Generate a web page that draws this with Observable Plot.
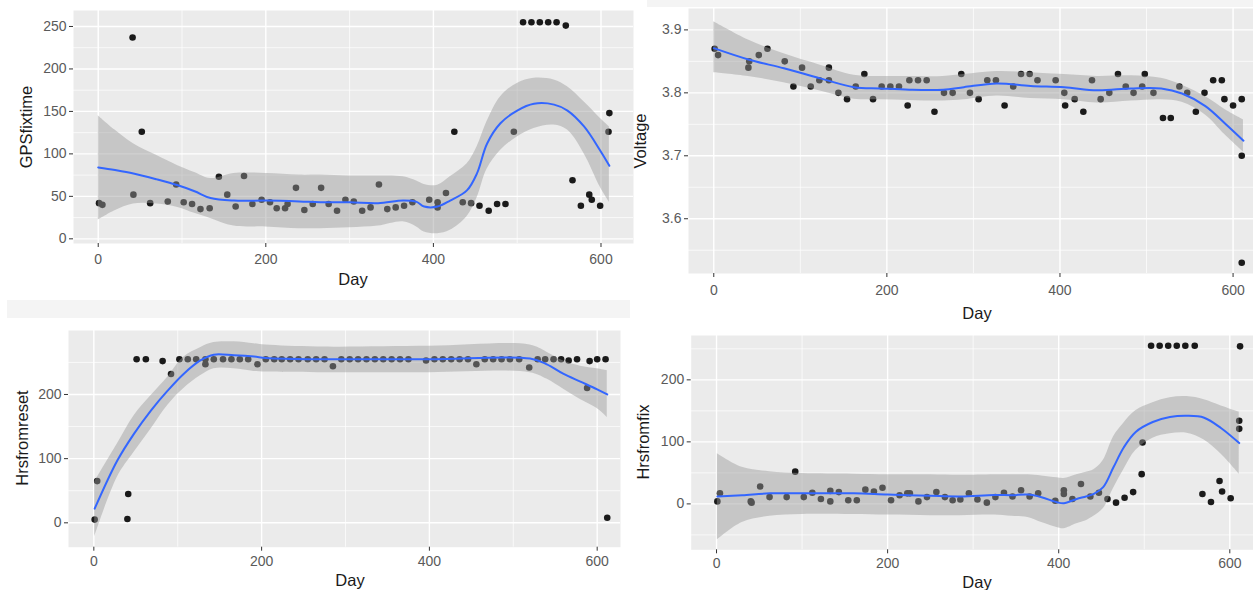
<!DOCTYPE html>
<html><head><meta charset="utf-8">
<script src="https://cdn.jsdelivr.net/npm/d3@7"></script>
<script src="https://cdn.jsdelivr.net/npm/@observablehq/plot@0.6"></script>
<style>
body{margin:0;background:#fff;width:1253px;height:590px;overflow:hidden;font-family:"Liberation Sans",Arial,sans-serif;}
#wrap{position:relative;width:1253px;height:590px;}
.panel{position:absolute;}
.panel svg{overflow:visible;background:transparent;}
.strip{position:absolute;background:#f4f4f4;}
.ttl{position:absolute;font-size:16.5px;color:#1a1a1a;white-space:nowrap;line-height:1;}
.ytl{transform:translate(-50%,-50%) rotate(-90deg);}
.xtl{transform:translate(-50%,-50%);}
</style></head><body><div id="wrap">
<div class="strip" style="left:647px;top:0;width:606px;height:7px"></div>
<div class="strip" style="left:7px;top:300px;width:623px;height:18px"></div>
</div>
<script>
// ---------- Panel 1: GPSfixtime ----------
const gpsDay = [1,5,41,42,52,62,83,93,102,112,122,133,144,154,164,174,184,195,205,213,223,226,236,246,256,266,275,285,295,305,315,325,335,345,355,365,375,395,405,405,415,425,435,445,455,466,476,486,496,507,517,527,537,547,558,566,576,586,589,599,609,610];
const gpsVal = [42,40,237,52,126,42,44,64,43,41,35,36,73,52,38,74,41,46,43,36,36,41,60,34,41,60,41,33,46,44,33,37,64,35,37,39,43,46,43,37,54,126,43,42,39,33,41,41,126,255,255,255,255,255,251,69,39,52,46,39,126,148];
const gpsFitDay = [0,20,42,70,95,115,134,162,200,240,265,300,334,364,380,389,405,420,440,452,464,480,500,520,544,560,580,599,610];
const gpsFit    = [84,81,77,70,63,56,48,45,45,44,43,43,42,45,43.5,38,38,45,57,77,112,136,151,159,158,151,132,104,86];
const gpsLo     = [22,33,41,41,37,30,24,15,14,12,12,13,15,20,14,8,6,10,26,48,82,104,120,130,134,128,100,61,43];
const gpsHi     = [145,128,112,98,86,78,71,77,77,75,75,74,74,73,68,64,63,73,88,108,138,167,183,189,187,179,161,142,132];

// ---------- Panel 2: Voltage ----------
const voltDay = [1,5,40,41,52,62,82,92,102,112,122,133,133,144,154,164,174,184,194,204,214,224,226,236,246,255,266,276,286,296,306,316,326,336,346,355,365,374,395,405,406,417,427,437,447,457,467,476,485,495,498,508,519,528,538,547,557,567,577,587,590,600,610,610,610];
const voltVal = [3.87,3.86,3.84,3.85,3.86,3.87,3.85,3.81,3.84,3.81,3.82,3.84,3.82,3.80,3.79,3.81,3.83,3.79,3.81,3.81,3.81,3.78,3.82,3.82,3.82,3.77,3.80,3.80,3.83,3.80,3.79,3.82,3.82,3.78,3.81,3.83,3.83,3.82,3.82,3.80,3.78,3.79,3.77,3.82,3.79,3.80,3.83,3.81,3.80,3.81,3.83,3.80,3.76,3.76,3.81,3.80,3.77,3.80,3.82,3.82,3.79,3.78,3.79,3.70,3.53];
const voltFitDay = [0,40,81,123,162,192,226,265,289,327,366,405,443,482,517,541,568,591,612];
const voltFit    = [3.871,3.853,3.839,3.823,3.809,3.807,3.805,3.805,3.809,3.815,3.811,3.809,3.804,3.807,3.807,3.799,3.779,3.751,3.724];
const voltLo     = [3.832,3.826,3.816,3.803,3.790,3.789,3.788,3.787,3.789,3.795,3.791,3.789,3.784,3.787,3.789,3.785,3.765,3.733,3.706];
const voltHi     = [3.913,3.884,3.862,3.844,3.828,3.826,3.826,3.826,3.829,3.834,3.832,3.829,3.826,3.827,3.823,3.812,3.794,3.773,3.757];

// ---------- Panel 3: Hrsfromreset ----------
const resetDay = [1,4,40,41,51,62,82,92,102,112,122,133,133,143,154,164,174,184,195,205,215,224,234,244,255,265,275,285,295,305,315,325,335,345,355,365,375,396,406,416,426,436,446,456,466,476,486,496,507,519,529,538,548,557,566,576,588,591,600,610,612];
const resetVal = [5,65,6,45,255,255,252,232,255,255,255,255,247,255,255,255,255,255,247,255,255,255,255,255,255,255,255,244,255,255,255,255,255,255,255,255,255,253,255,255,255,255,255,247,255,255,255,255,255,242,255,255,255,255,253,255,210,252,255,255,8];
const resetFitDay = [1,28,48,68,88,107,127,143,167,191,205,267,400,520,540,560,580,600,612];
const resetFit    = [22,97,139,175,206,232,253,262,261,259,257,255,255,256,247,232,220,208,200];
const resetLo     = [-22,71,110,146,183,209,229,240,240,236,235,234,234,234,224,208,192,178,164];
const resetHi     = [64,123,167,198,227,258,273,281,282,279,277,274,275,277,266,252,244,240,237];

// ---------- Panel 4: Hrsfromfix ----------
const fixDay = [1,4,40,41,51,62,82,92,102,112,122,133,133,143,154,164,174,184,194,204,214,223,226,236,246,257,267,276,285,295,305,316,326,336,346,356,366,376,396,406,406,416,426,437,447,457,467,477,487,497,498,508,518,528,538,548,559,568,578,588,591,601,611,611,612];
const fixVal = [4,17,4,2,28,11,11,52,11,18,8,21,4,19,6,6,23,20,26,6,14,17,17,4,11,19,11,6,7,17,7,2,11,18,12,22,12,17,5,22,16,8,32,12,18,8,2,10,19,48,99,255,255,255,255,255,255,16,3,37,20,9,134,121,254];
const fixFitDay = [1,30,62,100,160,200,250,285,325,345,364,380,398,406,421,432,441,452,464,476,490,510,530,550,570,590,611];
const fixFit    = [12,14,17,17,17,15,13,12,14.5,14,15,10.7,2.6,1,8,12,16,27,59,91,116,132,140,142,139,122,98];
const fixLo     = [-58,-30,-20,-17,-17,-18,-19,-19,-18,-20,-22,-30,-38,-40,-32,-27,-20,-8,25,55,86,106,113,114,103,80,48];
const fixHi     = [81,59,52,49,48,47,47,46,47,47,47,45,42,41,47,51,55,70,108,130,150,163,171,173,168,158,148];

const xMajor = [0,200,400,600];
const xMinor = [100,300,500];

const wrap = document.getElementById("wrap");

function pts(days, vals){ return days.map((d,i)=>({d, v: vals[i]})); }
function band(days, fit, lo, hi){ return days.map((d,i)=>({d, f: fit[i], lo: lo[i], hi: hi[i]})); }

function makePanel(c){
  const W = c.W, H = c.H;
  const chart = Plot.plot({
    width: W, height: H,
    marginLeft: c.fx0 - c.left, marginRight: c.left + W - c.fx1,
    marginTop: c.fy0 - c.top, marginBottom: c.top + H - c.fy1,
    style: {fontFamily: "'Liberation Sans', Arial, sans-serif", fontSize: "14px", background: "transparent", overflow: "visible"},
    x: {domain: c.xDomain, label: null},
    y: {domain: c.yDomain, label: null},
    marks: [
      Plot.frame({fill: "#EBEBEB", stroke: null}),
      Plot.gridX(xMinor, {stroke: "#fff", strokeOpacity: 1, strokeWidth: 0.7}),
      Plot.gridY(c.yMinor, {stroke: "#fff", strokeOpacity: 1, strokeWidth: 0.7}),
      Plot.gridX(xMajor, {stroke: "#fff", strokeOpacity: 1, strokeWidth: 1.4}),
      Plot.gridY(c.yMajor, {stroke: "#fff", strokeOpacity: 1, strokeWidth: 1.4}),
      Plot.axisX(xMajor, {tickSize: 4, tickPadding: c.xPad, label: null, stroke: "#333", fill: "#5a5a5a"}),
      Plot.axisY(c.yMajor, {tickSize: 4, tickPadding: 3, label: null, stroke: "#333", fill: "#5a5a5a", tickFormat: c.fmt}),
      Plot.dot(c.points, {x: "d", y: "v", r: 3.3, fill: "#1a1a1a", stroke: null}),
      Plot.areaY(c.band, {x: "d", y1: "lo", y2: "hi", fill: "#999999", fillOpacity: 0.45, curve: "catmull-rom"}),
      Plot.line(c.band, {x: "d", y: "f", stroke: "#3366FF", strokeWidth: 2, curve: "catmull-rom"})
    ]
  });
  const div = document.createElement("div");
  div.className = "panel";
  div.style.left = c.left + "px"; div.style.top = c.top + "px";
  div.style.width = W + "px"; div.style.height = H + "px";
  div.appendChild(chart);
  wrap.appendChild(div);
}

function title(text, x, y, rot){
  const t = document.createElement("div");
  t.className = "ttl " + (rot ? "ytl" : "xtl");
  t.style.left = x + "px"; t.style.top = y + "px";
  t.textContent = text;
  wrap.appendChild(t);
}

makePanel({left: 0, top: 0, W: 640, H: 300, fx0: 73, fx1: 633, fy0: 10, fy1: 243,
  xDomain: [-29.5, 638.8], yDomain: [-5.5, 268.8],
  yMajor: [0,50,100,150,200,250], yMinor: [25,75,125,175,225], xPad: 7,
  points: pts(gpsDay, gpsVal), band: band(gpsFitDay, gpsFit, gpsLo, gpsHi)});

makePanel({left: 630, top: 0, W: 623, H: 330, fx0: 688, fx1: 1253, fy0: 8, fy1: 273,
  xDomain: [-29.2, 623.6], yDomain: [3.513, 3.934],
  yMajor: [3.6,3.7,3.8,3.9], yMinor: [3.55,3.65,3.75,3.85], xPad: 8, fmt: d => d.toFixed(1),
  points: pts(voltDay, voltVal), band: band(voltFitDay, voltFit, voltLo, voltHi)});

makePanel({left: 0, top: 300, W: 630, H: 290, fx0: 68, fx1: 620, fy0: 330, fy1: 546.7,
  xDomain: [-30.2, 627.8], yDomain: [-38, 299.7],
  yMajor: [0,100,200], yMinor: [50,150,250], xPad: 5,
  points: pts(resetDay, resetVal), band: band(resetFitDay, resetFit, resetLo, resetHi)});

makePanel({left: 630, top: 300, W: 623, H: 290, fx0: 690.7, fx1: 1253, fy0: 335, fy1: 549.3,
  xDomain: [-29.6, 627.7], yDomain: [-74, 271.5],
  yMajor: [0,100,200], yMinor: [-50,50,150,250], xPad: 4,
  points: pts(fixDay, fixVal), band: band(fixFitDay, fixFit, fixLo, fixHi)});

title("GPSfixtime", 26, 127, true);
title("Voltage", 640, 141, true);
title("Hrsfromreset", 22, 438, true);
title("Hrsfromfix", 643, 442, true);
title("Day", 353, 279, false);
title("Day", 977, 313, false);
title("Day", 350, 580, false);
title("Day", 977, 582, false);
</script></body></html>
